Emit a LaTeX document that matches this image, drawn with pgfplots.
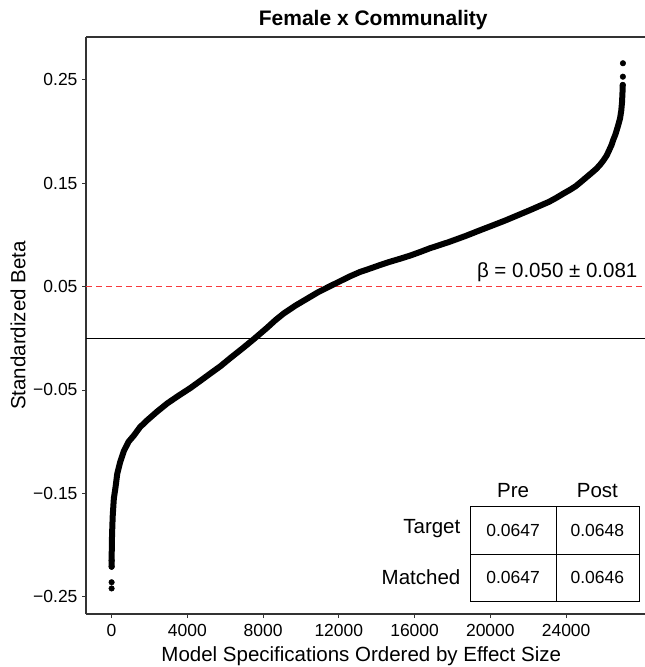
\documentclass[border=0pt]{standalone}
\usepackage{pgfplots}
\pgfplotsset{compat=1.18}
\usepackage{fontspec}
\setmainfont{Liberation Sans}
\definecolor{refred}{HTML}{F8393C}
\definecolor{axgray}{HTML}{333333}
\begin{document}
\begin{tikzpicture}
\begin{axis}[
  name=ax,
  scale only axis,
  width=562.5pt, height=577pt,
  xmin=-1350, xmax=28350,
  ymin=-0.2667, ymax=0.2914,
  axis x line*=box, axis y line*=left,
  xtick={0,4000,8000,12000,16000,20000,24000},
  xticklabels={0,4000,8000,12000,16000,20000,24000},
  scaled x ticks=false,
  ytick={-0.25,-0.15,-0.05,0.05,0.15,0.25},
  yticklabels={−0.25,−0.15,−0.05,0.05,0.15,0.25},
  tick align=outside,
  xtick pos=bottom, ytick pos=left,
  major tick length=4pt,
  tick style={axgray, line width=0.9pt},
  axis line style={axgray, line width=1.1pt},
  tick label style={font=\fontsize{17.5}{20}\selectfont, text=black},
  xticklabel style={yshift=-2.5pt},
  yticklabel style={xshift=-1pt},
  title={Female x Communality},
  title style={font=\fontsize{21}{24}\bfseries\selectfont, at={(axis description cs:0.5,1)}, anchor=base, yshift=5.5pt, xshift=6pt},
  xlabel={Model Specifications Ordered by Effect Size},
  ylabel={Standardized Beta},
  label style={font=\fontsize{20.5}{24}\selectfont},
  xlabel style={at={(axis description cs:0.5,0)}, anchor=base, yshift=-47pt, xshift=-6pt},
  ylabel style={at={(axis description cs:-0.1209,0.5)}, anchor=center},
  clip=false,
]
\addplot[black, line width=1.2pt, forget plot] coordinates {(-1350,0) (28350,0)};
\addplot[refred, line width=1.5pt, dash pattern=on 6pt off 4pt, forget plot] coordinates {(-1350,0.05) (28350,0.05)};
\addplot[black, line width=6pt, line join=round, line cap=round] coordinates {
(3,-0.221) (10,-0.205) (25,-0.190) (60,-0.172) (120,-0.155) (210,-0.144)
(300,-0.131) (450,-0.120) (650,-0.109) (900,-0.100) (1180,-0.094) (1500,-0.086)
(1900,-0.079) (2400,-0.071) (2940,-0.063) (3500,-0.056) (4170,-0.048) (4700,-0.041)
(5220,-0.034) (5750,-0.027) (6280,-0.019) (6900,-0.010) (7500,-0.001) (8200,0.010)
(8650,0.0175) (9090,0.024) (9700,0.0315) (10300,0.038) (10900,0.0445) (11550,0.0505) (12100,0.0555) (12600,0.060) (13100,0.064) (13660,0.0675) (14200,0.071) (14700,0.074)
(15250,0.077) (15770,0.080) (16300,0.0835) (16800,0.087) (17800,0.093) (18700,0.099) (19460,0.1045) (20100,0.109) (20800,0.114)
(21450,0.119) (22100,0.124) (22600,0.128) (23100,0.132) (23500,0.136) (23860,0.140) (24200,0.1435) (24500,0.147) (24800,0.1515) (25090,0.156) (25350,0.160) (25600,0.164)
(25800,0.168) (25970,0.172) (26150,0.177) (26300,0.183) (26400,0.187) (26490,0.192) (26600,0.197) (26700,0.203) (26780,0.208) (26850,0.213) (26910,0.220) (26950,0.228)
(26975,0.237) (26990,0.245)
};
\addplot[only marks, mark=*, mark size=2.8pt, black] coordinates {
(1,-0.242) (2,-0.236) (3,-0.221) (6,-0.215) (26990,0.245) (26998,0.253) (27000,0.266)
};
\node[anchor=base east, font=\fontsize{20.5}{24}\selectfont] at (axis cs:27950,0.059) {β = 0.050 ± 0.081};
% table
\draw[black, line width=1pt] (axis cs:18935,-0.1626) rectangle (axis cs:27850,-0.2546);
\draw[black, line width=1pt] (axis cs:23470,-0.1626) -- (axis cs:23470,-0.2546);
\draw[black, line width=1pt] (axis cs:18935,-0.2091) -- (axis cs:27850,-0.2091);
\node[font=\fontsize{20.5}{24}\selectfont] at (axis cs:21200,-0.147) {Pre};
\node[font=\fontsize{20.5}{24}\selectfont] at (axis cs:25650,-0.147) {Post};
\node[anchor=east, font=\fontsize{20.5}{24}\selectfont] at (axis cs:18600,-0.1845) {Target};
\node[anchor=east, font=\fontsize{20.5}{24}\selectfont] at (axis cs:18600,-0.2310) {Matched};
\node[font=\fontsize{17.5}{20}\selectfont] at (axis cs:21200,-0.1858) {0.0647};
\node[font=\fontsize{17.5}{20}\selectfont] at (axis cs:25650,-0.1858) {0.0648};
\node[font=\fontsize{17.5}{20}\selectfont] at (axis cs:21200,-0.2318) {0.0647};
\node[font=\fontsize{17.5}{20}\selectfont] at (axis cs:25650,-0.2318) {0.0646};
\end{axis}
\pgfresetboundingbox
\path ([xshift=-86pt,yshift=-53pt]ax.south west) rectangle ([xshift=558pt,yshift=37pt]ax.north west);
\end{tikzpicture}
\end{document}
